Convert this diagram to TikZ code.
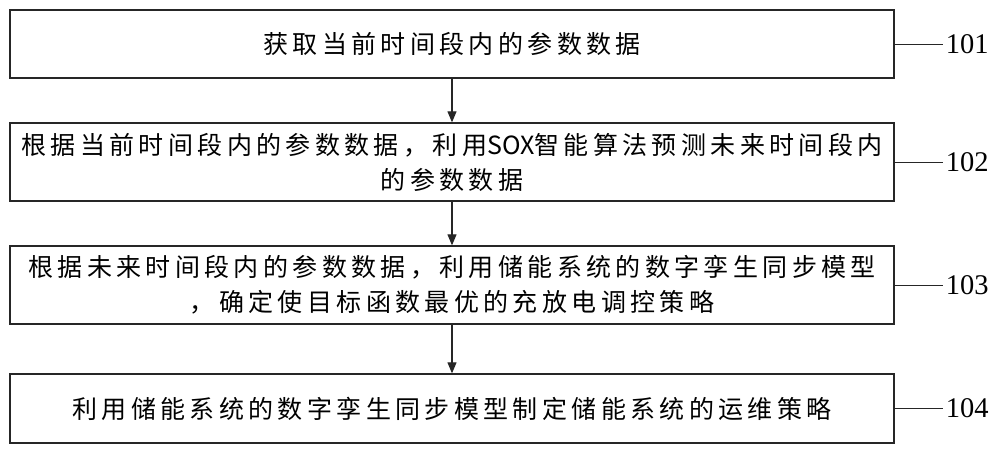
\documentclass[tikz,border=0pt]{standalone}
\usepackage{fontspec}
\newfontfamily\cjk[LetterSpace=17.5]{Noto Sans CJK SC}
\newfontfamily\cjktight{Noto Sans CJK SC}
\newfontfamily\numfont{Liberation Serif}
\usetikzlibrary{positioning}
\usetikzlibrary{arrows.meta}

\begin{document}
\begin{tikzpicture}[x=1pt,y=-1pt,
    stepbox/.style={rectangle,draw=black!85,line width=1.3pt,
        minimum width=884pt,inner sep=0pt,align=center,
        font=\cjk\fontsize{25}{35}\selectfont},
    flow/.style={-{Triangle[width=9pt,length=11pt]},line width=1.1pt,draw=black!85},
    tag/.style={inner sep=3pt,font=\numfont\fontsize{28.5}{30}\selectfont}]
        \useasboundingbox (0,0) rectangle (1000,450);

        % steps
        \node[stepbox,minimum height=68pt] (s1) at (452,44)
            {获取当前时间段内的参数数据};
        \node[stepbox,minimum height=78pt] (s2) at (452,162)
            {根据当前时间段内的参数数据，利用{\cjktight SOX}智能算法预测未来时间段内\\的参数数据};
        \node[stepbox,minimum height=78pt] (s3) at (452,285)
            {根据未来时间段内的参数数据，利用储能系统的数字孪生同步模型\\，确定使目标函数最优的充放电调控策略};
        \node[stepbox,minimum height=69pt] (s4) at (452,408.5)
            {利用储能系统的数字孪生同步模型制定储能系统的运维策略};

        \draw[flow] (s1) -- (s2);
        \draw[flow] (s2) -- (s3);
        \draw[flow] (s3) -- (s4);

        % step numbers
        \node[tag,right=48pt of s1] (n1) {101};
        \node[tag,right=48pt of s2] (n2) {102};
        \node[tag,right=48pt of s3] (n3) {103};
        \node[tag,right=48pt of s4] (n4) {104};
        \draw[line width=1pt,black!85] (s1) -- (n1);
        \draw[line width=1pt,black!85] (s2) -- (n2);
        \draw[line width=1pt,black!85] (s3) -- (n3);
        \draw[line width=1pt,black!85] (s4) -- (n4);

    \end{tikzpicture}
\end{document}
